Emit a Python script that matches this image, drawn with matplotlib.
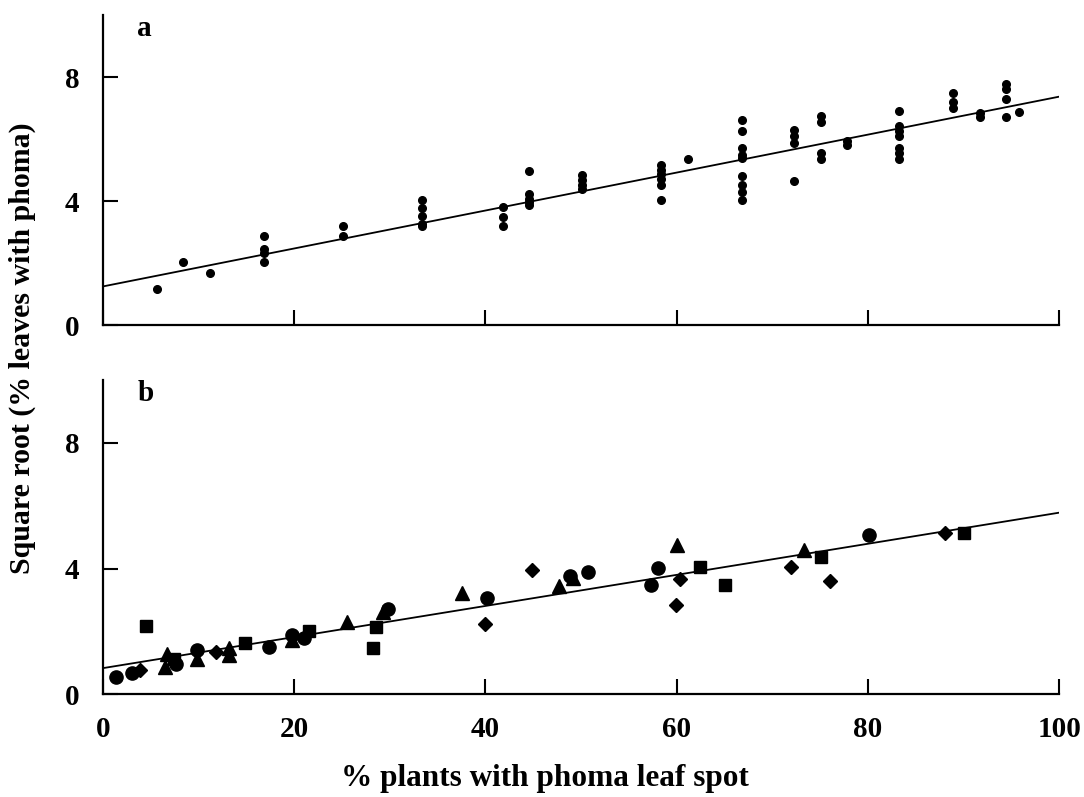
#!/usr/bin/env python3
"""Phoma leaf spot: sqrt(% leaves) vs % plants, two panels."""

import numpy as np
import matplotlib
matplotlib.use("Agg")
from matplotlib import pyplot as plt

plt.rcParams["font.family"] = ["Liberation Serif", "DejaVu Serif"]
plt.rcParams["font.weight"] = "bold"

# --- panel a: single series of dots ---
a_x = [5.6, 8.4, 11.2,
       16.8, 16.8, 16.8, 16.8,
       25.1, 25.1,
       33.4, 33.4, 33.4, 33.4, 33.4,
       41.8, 41.8, 41.8,
       44.6, 44.6, 44.6, 44.6, 44.6,
       50.1, 50.1, 50.1, 50.1,
       58.4, 58.4, 58.4, 58.4, 58.4, 58.4,
       61.2,
       66.8, 66.8, 66.8, 66.8, 66.8, 66.8, 66.8, 66.8, 66.8,
       72.3, 72.3, 72.3, 72.3,
       75.1, 75.1, 75.1, 75.1,
       77.8, 77.8,
       83.3, 83.3, 83.3, 83.3, 83.3, 83.3, 83.3,
       88.9, 88.9, 88.9,
       91.7, 91.7,
       94.5, 94.5, 94.5, 94.5,
       95.8]
a_y = [1.17, 2.03, 1.67,
       2.87, 2.47, 2.34, 2.03,
       3.20, 2.87,
       4.05, 3.78, 3.52, 3.26, 3.20,
       3.80, 3.49, 3.19,
       4.97, 4.22, 4.08, 3.98, 3.87,
       4.84, 4.68, 4.52, 4.38,
       5.18, 5.02, 4.87, 4.70, 4.52, 4.03,
       5.37,
       6.61, 6.26, 5.73, 5.50, 5.38, 4.82, 4.52, 4.28, 4.03,
       6.31, 6.10, 5.86, 4.66,
       6.74, 6.56, 5.54, 5.35,
       5.94, 5.81,
       6.91, 6.43, 6.26, 6.10, 5.73, 5.54, 5.35,
       7.50, 7.20, 7.02,
       6.85, 6.72,
       7.77, 7.63, 7.31, 6.70,
       6.86]
a_fit = (1.25, 0.0612)  # intercept, slope

# --- panel b: four series with different symbols ---
b_circle_x = [1.4, 3.0, 7.6, 9.8, 17.4, 19.8, 21.0, 29.8, 40.2, 48.8, 50.7, 57.3, 58.1, 80.1]
b_circle_y = [0.55, 0.66, 0.97, 1.40, 1.50, 1.87, 1.80, 2.72, 3.07, 3.75, 3.88, 3.48, 4.01, 5.07]
b_square_x = [4.5, 7.4, 14.9, 21.5, 28.2, 28.6, 62.4, 65.1, 75.1, 90.1]
b_square_y = [2.16, 1.11, 1.63, 2.00, 1.47, 2.14, 4.06, 3.48, 4.38, 5.12]
b_triangle_x = [6.5, 6.7, 9.8, 13.2, 13.2, 19.8, 25.5, 29.3, 37.6, 47.7, 49.2, 60.0, 73.3]
b_triangle_y = [0.86, 1.27, 1.13, 1.26, 1.48, 1.71, 2.30, 2.61, 3.22, 3.46, 3.70, 4.75, 4.59]
b_diamond_x = [3.9, 11.8, 40.0, 44.9, 59.9, 60.3, 72.0, 76.0, 88.1]
b_diamond_y = [0.76, 1.34, 2.24, 3.96, 2.83, 3.67, 4.04, 3.60, 5.13]
b_fit = (0.83, 0.0495)

x_ticks = [0, 20, 40, 60, 80, 100]
y_ticks = [0, 4, 8]


def style_axis(ax, show_xlabels):
    ax.set_xlim(0, 100)
    ax.set_ylim(0, 10)
    ax.spines["top"].set_visible(False)
    ax.spines["right"].set_visible(False)
    for s in ("left", "bottom"):
        ax.spines[s].set_linewidth(1.6)
    ax.set_xticks(x_ticks)
    ax.set_yticks(y_ticks)
    ax.tick_params(direction="in", length=11, width=1.5, labelsize=21)
    ax.tick_params(axis="x", pad=16)
    ax.tick_params(axis="y", pad=17)
    if not show_xlabels:
        ax.set_xticklabels([])
    for lab in ax.get_xticklabels() + ax.get_yticklabels():
        lab.set_fontweight("bold")


def fit_line(ax, fit):
    xs = np.array([0, 100])
    ax.plot(xs, fit[0] + fit[1] * xs, color="black", lw=1.3)


fig = plt.figure(figsize=(10.84, 7.97), dpi=100)
ax_a = fig.add_axes([0.095, 0.592, 0.882, 0.389])
ax_b = fig.add_axes([0.095, 0.129, 0.882, 0.394])

fit_line(ax_a, a_fit)
ax_a.plot(a_x, a_y, "o", color="black", ms=5.5, clip_on=False)
style_axis(ax_a, False)
ax_a.text(0.036, 1.0, "a", transform=ax_a.transAxes, fontsize=21,
          fontweight="bold", va="top", ha="left")

fit_line(ax_b, b_fit)
ax_b.plot(b_circle_x, b_circle_y, "o", color="black", ms=9.5)
ax_b.plot(b_square_x, b_square_y, "s", color="black", ms=8)
ax_b.plot(b_triangle_x, b_triangle_y, "^", color="black", ms=10)
ax_b.plot(b_diamond_x, b_diamond_y, "D", color="black", ms=7.5)
style_axis(ax_b, True)
ax_b.text(0.036, 1.0, "b", transform=ax_b.transAxes, fontsize=21,
          fontweight="bold", va="top", ha="left")

fig.text(0.503, 0.005, "% plants with phoma leaf spot", fontsize=22.5,
         fontweight="bold", va="bottom", ha="center")
fig.text(0.021, 0.563, "Square root (% leaves with phoma)", rotation=90,
         fontsize=21.5, fontweight="bold", va="center", ha="center")

fig.savefig("out.png", dpi=100)
